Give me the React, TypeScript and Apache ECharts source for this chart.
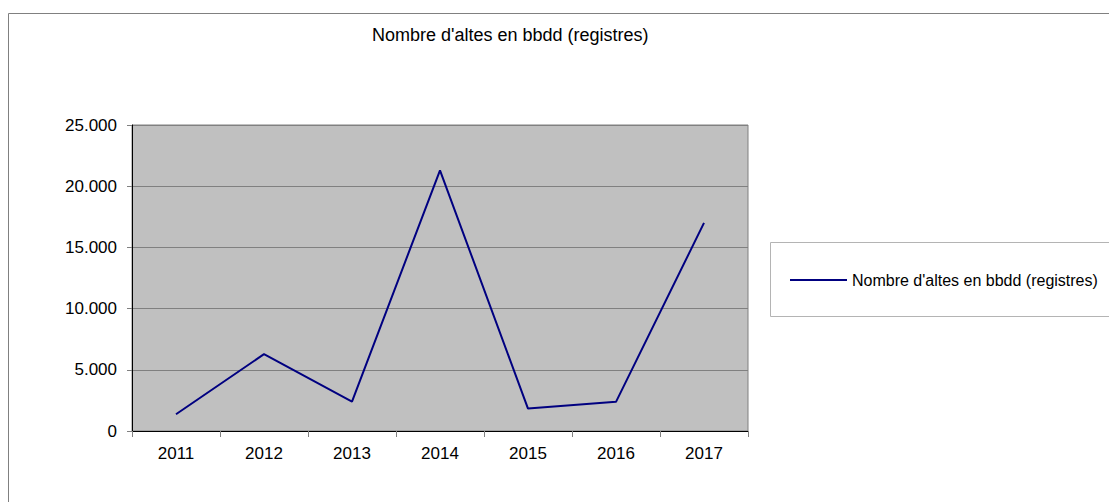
import React, { useEffect, useRef } from "react";
import * as echarts from "echarts";

const years = ["2011", "2012", "2013", "2014", "2015", "2016", "2017"];
const altes = [1370, 6280, 2400, 21300, 1830, 2380, 17000];
const seriesName = "Nombre d'altes en bbdd (registres)";
const chartTitle = "Nombre d'altes en bbdd (registres)";

const FONT = "'Liberation Sans', Arial, sans-serif";

function fmt(v: number): string {
  return String(Math.round(v)).replace(/\B(?=(\d{3})+(?!\d))/g, ".");
}

export default function App() {
  const ref = useRef<HTMLDivElement>(null);
  useEffect(() => {
    document.body.style.margin = "0";
    const chart = echarts.init(ref.current!, undefined, { renderer: "svg" });
    chart.setOption({
      animation: false,
      backgroundColor: "#ffffff",
      textStyle: { fontFamily: FONT },
      title: {
        text: chartTitle,
        left: 372,
        top: 26,
        padding: 0,
        textStyle: { fontSize: 18, fontWeight: "normal", color: "#000", fontFamily: FONT },
      },
      graphic: [
        {
          type: "rect",
          shape: { x: 8.5, y: 13.5, width: 1200, height: 600 },
          style: { fill: "none", stroke: "#808080", lineWidth: 1 },
          z: -10,
        },
        {
          type: "rect",
          shape: { x: 770.5, y: 242.5, width: 400, height: 74 },
          style: { fill: "#ffffff", stroke: "#b4b4b4", lineWidth: 1 },
          z: -5,
        },
      ],
      legend: {
        left: 790,
        top: 272,
        padding: 0,
        icon: "rect",
        itemWidth: 57,
        itemHeight: 2,
        textStyle: { fontSize: 16, color: "#000", fontFamily: FONT },
        data: [seriesName],
      },
      grid: {
        left: 132,
        top: 125,
        right: 361,
        bottom: 71,
        show: true,
        backgroundColor: "#C0C0C0",
        borderColor: "#808080",
        borderWidth: 1,
        containLabel: false,
      },
      xAxis: {
        type: "category",
        data: years,
        boundaryGap: true,
        axisLine: { show: true, lineStyle: { color: "#000", width: 1 } },
        axisTick: { show: true, length: 6, lineStyle: { color: "#808080" } },
        axisLabel: { fontSize: 17, color: "#000", margin: 14, fontFamily: FONT },
        splitLine: { show: false },
      },
      yAxis: {
        type: "value",
        min: 0,
        max: 25000,
        interval: 5000,
        axisLine: { show: true, lineStyle: { color: "#000", width: 1 } },
        axisTick: { show: true, length: 5, lineStyle: { color: "#808080" } },
        axisLabel: { fontSize: 17, color: "#000", margin: 15, fontFamily: FONT, formatter: (v: number) => fmt(v) },
        splitLine: { show: true, lineStyle: { color: "#808080", width: 1 } },
      },
      series: [
        {
          name: seriesName,
          type: "line",
          data: altes,
          symbol: "none",
          showSymbol: false,
          lineStyle: { color: "#000080", width: 2 },
          itemStyle: { color: "#000080" },
        },
      ],
    });
    return () => chart.dispose();
  }, []);
  return <div ref={ref} style={{ width: 1109, height: 502 }} />;
}
